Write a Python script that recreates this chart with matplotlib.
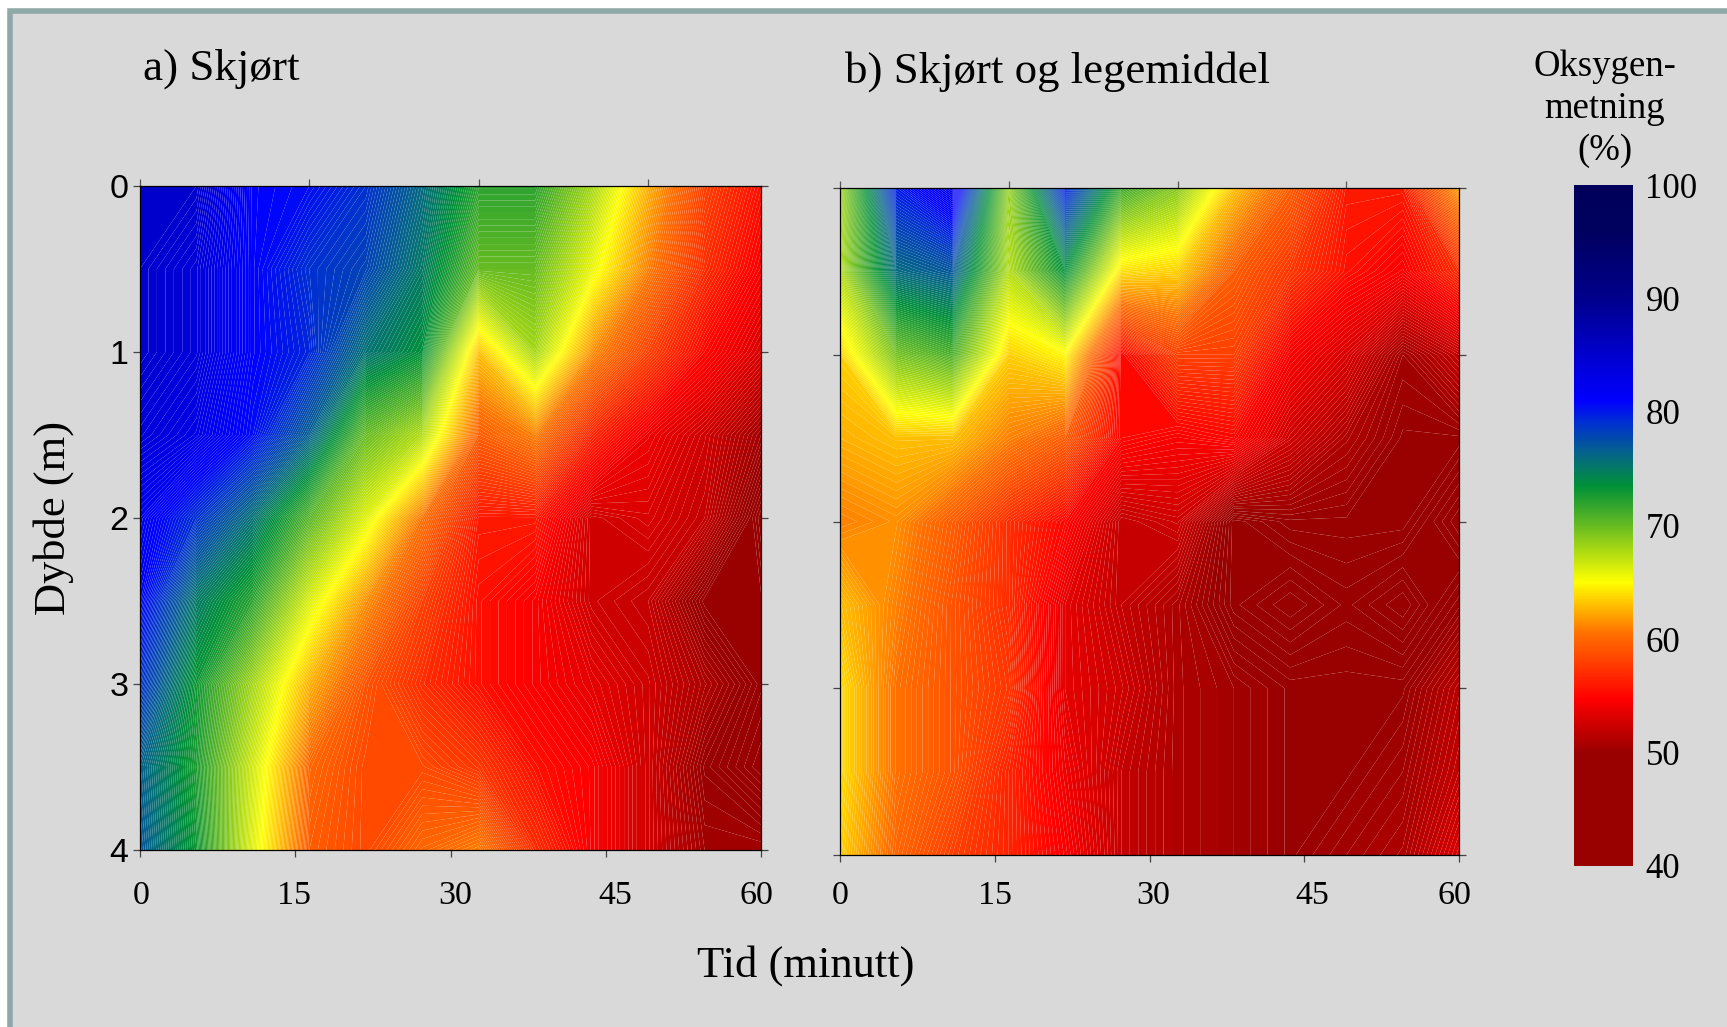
import numpy as np
import matplotlib
matplotlib.use('Agg')
import matplotlib.pyplot as plt
from matplotlib.colors import LinearSegmentedColormap, Normalize
from matplotlib.cm import ScalarMappable
from matplotlib.patches import Rectangle

W, H = 1727, 1027

# values: 12 times, depth every 0.5 m
tid = [0, 5.45, 10.9, 16.36, 21.82, 27.27, 32.73, 38.18, 43.64, 49.09, 54.55, 60]
dybde = [0, 0.5, 1, 1.5, 2, 2.5, 3, 3.5, 4]

skjort = [
    [85, 85, 81, 80.5, 79, 76, 72, 72, 68, 62.5, 58, 55.5],
    [85, 84, 81, 79, 78, 75, 70, 70, 65.7, 61, 57, 54.5],
    [85, 84, 81, 79.5, 75.5, 73.5, 63, 68, 61.5, 58, 55, 53],
    [84, 83, 80.5, 76.5, 70, 67.5, 59.5, 61, 56.5, 54, 52.5, 50.5],
    [82, 79, 75.5, 70.5, 66, 60.5, 56, 56, 52.5, 53, 52, 49],
    [81, 75, 72, 66.2, 61.5, 58, 55.5, 54.5, 52.5, 52, 49.5, 49.5],
    [79, 73, 68, 62.5, 59, 57, 55.5, 54.5, 53.5, 52.5, 51, 49.5],
    [76.5, 72.5, 66.5, 60, 58.5, 58.5, 57.5, 55.5, 54.5, 52.5, 50, 49],
    [77, 73, 66, 59.5, 58.5, 60, 61, 57, 54.5, 52.5, 50.5, 50.5],
]
legemiddel = [
    [68, 80, 83, 68.5, 80, 71.5, 69, 63, 59.5, 56, 56, 62],
    [67.5, 76, 77, 67.5, 73.5, 64, 63.5, 59.5, 57.5, 55.5, 54.5, 57],
    [63.5, 69.5, 71, 63.5, 64.8, 55, 58, 58, 54.5, 53, 50.5, 52],
    [62.5, 63, 63, 61, 59.5, 55, 54.5, 55, 52.5, 51, 50, 50],
    [61, 61.5, 59.5, 57, 55, 52, 52.5, 49.5, 50, 50, 50, 49],
    [63, 61, 59, 57, 53.5, 52, 51, 49.5, 49, 49.5, 49, 50],
    [64, 60.5, 59, 57.5, 53.5, 52.5, 51, 50.5, 50, 50, 50, 51.5],
    [64, 60.5, 59, 56.5, 54, 52, 51, 50.5, 50, 50, 50.5, 52],
    [63.5, 60, 58, 56.5, 54.5, 52, 51, 50.5, 50, 50.5, 51, 53],
]

farge_verdi = [40, 50, 54.7, 60.5, 65, 70, 73.5, 76, 79, 81, 85.5, 90, 96, 100]
farge_kode = ['#990000', '#990000', '#ff0000', '#ff7000', '#ffff00', '#66bb22', '#009038',
              '#056a80', '#0030d0', '#0000ff', '#0000c8', '#00008c', '#00005f', '#00005a']

xticks = [0, 15, 30, 45, 60]
xticks_top = [0, 16.36, 32.73, 49.09]
yticks = [0, 1, 2, 3, 4]
cticks = [40, 50, 60, 70, 80, 90, 100]

SERIF = 'Liberation Serif'
SANS = 'Liberation Sans'

cmap = LinearSegmentedColormap.from_list(
    'oksygen', [((v - 40) / 60, c) for v, c in zip(farge_verdi, farge_kode)], N=1024)
norm = Normalize(40, 100)
levels = np.arange(40, 100.01, 0.15)


def px_axes(left, top, right, bottom):
    return fig.add_axes([left / W, 1 - bottom / H, (right - left) / W, (bottom - top) / H])


def panel(ax, data, label_x, label_off):
    ax.contourf(tid, dybde, data, levels=levels, cmap=cmap, norm=norm, antialiased=True)
    ax.set_xlim(0, 60)
    ax.set_ylim(4, 0)
    ax.set_xticks(xticks)
    ax.set_xticklabels([])
    ax.set_yticks(yticks)
    ax.tick_params(axis='both', which='major', length=5, width=0.9, color='#444444',
                   left=True, right=True, bottom=True, labelsize=24.5, pad=3.5)
    for s in ax.spines.values():
        s.set_linewidth(0.9)
    top = ax.secondary_xaxis('top')
    top.set_xticks(xticks_top)
    top.set_xticklabels([])
    top.tick_params(length=5, width=0.9, color='#555555')
    top.spines['top'].set_visible(False)
    for x, val in zip(label_x, xticks):
        ax.annotate(str(val), (x, 0), xycoords=('data', 'axes fraction'), xytext=(0, label_off),
                    textcoords='offset points', ha='center', va='center',
                    family=SERIF, fontsize=24.5)


fig = plt.figure(figsize=(W / 100, H / 100), dpi=100, facecolor='white')

# grey panel with the teal frame, runs off the right and bottom edge
fig.add_artist(Rectangle((10 / W, -0.05), 1.1, 1 - 11.5 / H + 0.05, transform=fig.transFigure,
                         facecolor='#d9d9d9', edgecolor='#8fa8a8', linewidth=4, zorder=-1))

ax1 = px_axes(140, 186, 761, 850)
panel(ax1, skjort, [0.1, 14.9, 30.5, 45.9, 59.6], -33)
for t in ax1.get_yticklabels():
    t.set_family(SANS)

ax2 = px_axes(840, 188, 1459, 855)
panel(ax2, legemiddel, [0, 15, 30.4, 45.8, 59.6], -29.5)
ax2.set_yticklabels([])

cax = px_axes(1574, 185, 1633, 866)
cb = fig.colorbar(ScalarMappable(norm=norm, cmap=cmap), cax=cax, ticks=cticks)
cb.outline.set_visible(False)
cb.ax.tick_params(length=0, pad=9)
for t in cb.ax.get_yticklabels():
    t.set_family(SERIF)
    t.set_fontsize(25)

fig.text(143 / W, 1 - 69 / H, 'a) Skjørt', family=SERIF, fontsize=32.5, ha='left', va='center')
fig.text(845 / W, 1 - 72 / H, 'b) Skjørt og legemiddel', family=SERIF, fontsize=32.3, ha='left', va='center')
fig.text(806 / W, 1 - 966 / H, 'Tid (minutt)', family=SERIF, fontsize=32, ha='center', va='center')
fig.text(54 / W, 1 - 518 / H, 'Dybde (m)', family=SERIF, fontsize=32, rotation=90, ha='center', va='center')
for txt, y in zip(['Oksygen-', 'metning', '(%)'], [67, 109, 151]):
    fig.text(1605 / W, 1 - y / H, txt, family=SERIF, fontsize=26.5, ha='center', va='center')

fig.savefig('out.png', dpi=100, facecolor=fig.get_facecolor())
